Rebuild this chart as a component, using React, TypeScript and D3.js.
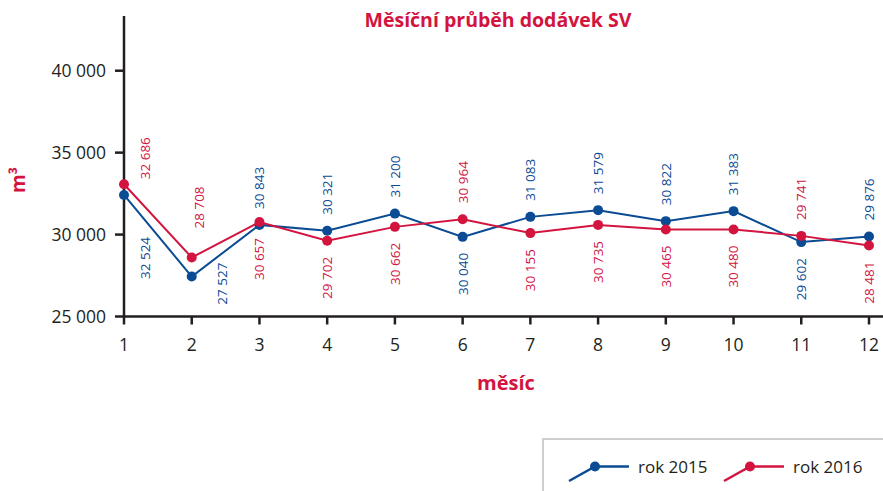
import { useEffect } from "react";
import * as d3 from "d3";

const months = [1, 2, 3, 4, 5, 6, 7, 8, 9, 10, 11, 12];
const yTicks = [25000, 30000, 35000, 40000];

// plotted values
const values2015 = [32420, 27440, 30590, 30230, 31280, 29860, 31080, 31490, 30820, 31430, 29540, 29880];
const values2016 = [33070, 28600, 30770, 29620, 30470, 30940, 30090, 30590, 30310, 30310, 29920, 29330];

// data labels as printed
const labels2015 = ["32 524", "27 527", "30 843", "30 321", "31 200", "30 040", "31 083", "31 579", "30 822", "31 383", "29 602", "29 876"];
const labels2016 = ["32 686", "28 708", "30 657", "29 702", "30 662", "30 964", "30 155", "30 735", "30 465", "30 480", "29 741", "28 481"];

const BLUE = "#0a4b93";
const RED = "#d2143f";
const AXIS = "#231f20";
const FONT = "'Open Sans', sans-serif";

const num = (s: string) => +s.replace(/\s/g, "");

const App: React.FC = () => {
  useEffect(() => {
    document.body.style.margin = "0";
  }, []);

  const width = 883;
  const height = 491;
  const x = d3.scaleLinear().domain([1, 12]).range([124, 869]);
  const y = d3.scaleLinear().domain([25000, 40000]).range([316.5, 70.7]);
  const line = d3.line<number>().x((_, i) => x(months[i])).y(d => y(d));

  const series = [
    { name: "rok 2015", values: values2015, labels: labels2015, color: BLUE },
    { name: "rok 2016", values: values2016, labels: labels2016, color: RED },
  ];

  // the bigger printed number of each month sits above, the other one below
  const labelPos = (s: number, i: number) => {
    const above = num(series[s].labels[i]) >= num(series[1 - s].labels[i]);
    let dx = 0;
    let gap = 16;
    if (i === 0) { dx = 21; gap = above ? 5 : 42; }
    if (i === 1) { dx = s === 0 ? 30 : 7; gap = above ? 29 : -14; }
    return { above, dx, gap };
  };

  return (
    <svg width={width} height={height} style={{ position: "absolute", left: 0, top: 0, fontFamily: FONT }}>
      <text x={498} y={27} textAnchor="middle" fill={RED} fontWeight={700} fontSize={19.5}>
        Měsíční průběh dodávek SV
      </text>

      {/* y axis */}
      <line x1={124} x2={124} y1={16} y2={317.5} stroke={AXIS} strokeWidth={2.5} />
      {yTicks.map(t => (
        <g key={t} transform={`translate(0,${y(t)})`}>
          <line x1={115} x2={124} stroke={AXIS} strokeWidth={2.5} />
          <text x={106} dy="0.36em" textAnchor="end" fill={AXIS} fontSize={17.5}>
            {d3.format(",")(t).replace(/,/g, " ")}
          </text>
        </g>
      ))}
      <text transform="translate(25,180) rotate(-90)" textAnchor="middle" fill={RED} fontWeight={700} fontSize={19}>
        m³
      </text>

      {/* x axis */}
      <line x1={122.75} x2={width} y1={y(25000)} y2={y(25000)} stroke={AXIS} strokeWidth={2.5} />
      {months.map(m => (
        <g key={m} transform={`translate(${x(m)},${y(25000)})`}>
          <line y1={0} y2={8} stroke={AXIS} strokeWidth={2.5} />
          <text y={34} textAnchor="middle" fill={AXIS} fontSize={17.5}>{m}</text>
        </g>
      ))}
      <text x={506} y={390} textAnchor="middle" fill={RED} fontWeight={700} fontSize={20}>
        měsíc
      </text>

      {series.map(s => (
        <g key={s.name}>
          <path d={line(s.values) ?? ""} fill="none" stroke={s.color} strokeWidth={2} />
          {s.values.map((v, i) => (
            <circle key={i} cx={x(months[i])} cy={y(v)} r={5} fill={s.color} />
          ))}
        </g>
      ))}

      {series.map((s, si) => s.labels.map((lab, i) => {
        const p = labelPos(si, i);
        const px = x(months[i]) + p.dx;
        const py = y(s.values[i]) + (p.above ? -p.gap : p.gap);
        return (
          <text
            key={`${si}-${i}`}
            transform={`translate(${px},${py}) rotate(-90)`}
            textAnchor={p.above ? "start" : "end"}
            dy="0.36em"
            fill={s.color}
            fontSize={13.5}
          >{lab}</text>
        );
      }))}

      {/* legend */}
      <rect x={543} y={439} width={360} height={80} fill="white" stroke="#cfcfcf" strokeWidth={2} />
      {series.map((s, i) => {
        const lx = 569 + i * 155;
        return (
          <g key={s.name}>
            <polyline points={`${lx},481 ${lx + 26},466.5 ${lx + 60},466.5`} fill="none" stroke={s.color} strokeWidth={2.5} />
            <circle cx={lx + 26} cy={466.5} r={5} fill={s.color} />
            <text x={lx + 69} y={473} fill={AXIS} fontSize={17}>{s.name}</text>
          </g>
        );
      })}
    </svg>
  );
};

export default App;
